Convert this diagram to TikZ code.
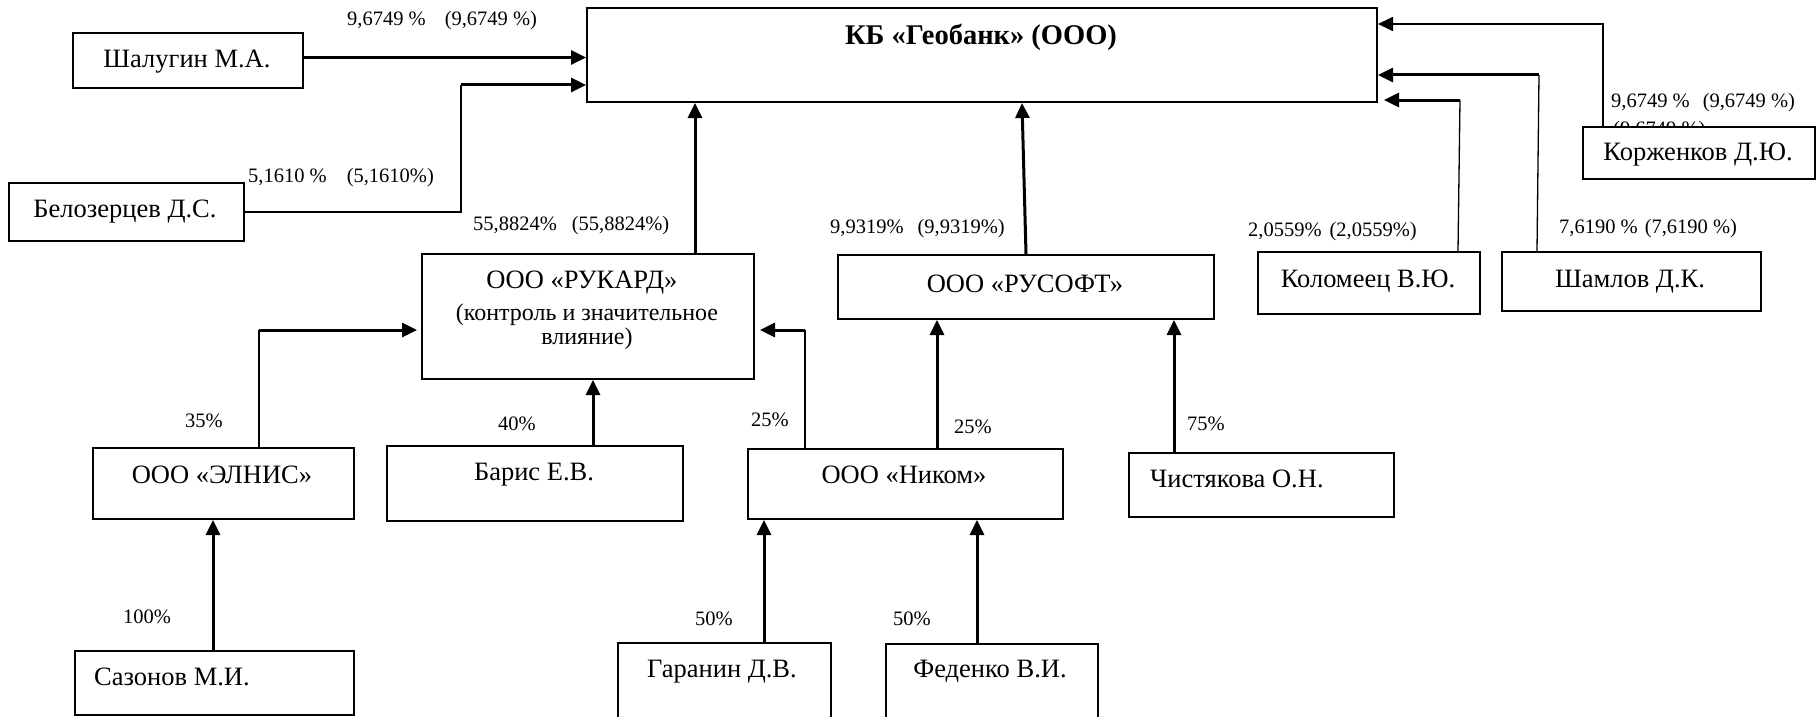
\documentclass[tikz,border=0pt]{standalone}
\usepackage{fontspec}
\setmainfont{Liberation Serif}
\usetikzlibrary{arrows.meta,calc}
\begin{document}
\begin{tikzpicture}[x=1pt,y=-1pt,
  box/.style={draw, line width=2pt, inner sep=0pt, anchor=north west, fill=white},
  nm/.style={font=\fontsize{26.5}{30}\selectfont, inner sep=0pt, anchor=base},
  nmleft/.style={font=\fontsize{26.5}{30}\selectfont, inner sep=0pt, anchor=base west},
  sub/.style={font=\fontsize{24}{28}\selectfont, inner sep=0pt, anchor=base},
  pct/.style={font=\fontsize{20.5}{24}\selectfont, inner sep=0pt, anchor=base west},
  arr/.style={line width=3pt, -{Triangle[length=15pt,width=14pt]}},
  midarr/.style={line width=1.8pt, -{Triangle[length=15pt,width=14pt]}},
  thinln/.style={line width=1.3pt},
]
\useasboundingbox (0,0) rectangle (1816,717);

% hidden label partly covered by the Korzhenkov box
\node[pct] (hid) at (1613,135) {(9,6749 \%)};

% boxes
\node[box, minimum width=790pt, minimum height=94pt] (geo) at (586,7) {};
\node[box, minimum width=230pt, minimum height=55pt] (shal) at (72,32) {};
\node[box, minimum width=235pt, minimum height=58pt] (bel) at (8,182) {};
\node[box, minimum width=332pt, minimum height=125pt] (rukard) at (421,253) {};
\node[box, minimum width=376pt, minimum height=64pt] (rusoft) at (837,254) {};
\node[box, minimum width=222pt, minimum height=62pt] (kolom) at (1257,251) {};
\node[box, minimum width=259pt, minimum height=59pt] (shaml) at (1501,251) {};
\node[box, minimum width=232pt, minimum height=52pt] (korzh) at (1582,126) {};
\node[box, minimum width=261pt, minimum height=71pt] (elnis) at (92,447) {};
\node[box, minimum width=296pt, minimum height=75pt] (baris) at (386,445) {};
\node[box, minimum width=315pt, minimum height=70pt] (nikom) at (747,448) {};
\node[box, minimum width=265pt, minimum height=64pt] (chist) at (1128,452) {};
\node[box, minimum width=279pt, minimum height=64pt] (sazon) at (74,650) {};
\node[box, minimum width=213pt, minimum height=100pt] (garan) at (617,642) {};
\node[box, minimum width=212pt, minimum height=100pt] (feden) at (885,643) {};

% box texts
\node[font=\bfseries\fontsize{28.5}{30}\selectfont, inner sep=0pt, anchor=base] (geoT) at (981,45) {КБ «Геобанк» (ООО)};
\node[nm] (shalT) at (187,68) {Шалугин М.А.};
\node[nm] (belT) at (125,217) {Белозерцев Д.С.};
\node[nm] (rukT1) at (582,288) {ООО «РУКАРД»};
\node[sub] (rukT2) at (587,320) {(контроль и значительное};
\node[sub] (rukT3) at (587,344) {влияние)};
\node[nm] (rusT) at (1025,292) {ООО «РУСОФТ»};
\node[nm] (kolT) at (1368,287) {Коломеец В.Ю.};
\node[nm] (shamT) at (1630,287) {Шамлов Д.К.};
\node[nm] (korT) at (1698,160) {Корженков Д.Ю.};
\node[nm] (elT) at (222,483) {ООО «ЭЛНИС»};
\node[nm] (barT) at (534,480) {Барис Е.В.};
\node[nm] (nikT) at (904,483) {ООО «Ником»};
\node[nmleft] (chT) at (1150,487) {Чистякова О.Н.};
\node[nmleft] (szT) at (94,685) {Сазонов М.И.};
\node[nm] (gaT) at (722,677) {Гаранин Д.В.};
\node[nm] (feT) at (990,677) {Феденко В.И.};

% percentage labels
\node[pct] (p1) at (347,26) {9,6749 \%\hspace{19pt}(9,6749 \%)};
\node[pct] (p2) at (248,182) {5,1610 \%\hspace{20pt}(5,1610\%)};
\node[pct] (p3) at (473,230) {55,8824\%\hspace{15pt}(55,8824\%)};
\node[pct] (p4) at (830,233) {9,9319\%\hspace{14pt}(9,9319\%)};
\node[pct] (p5) at (1248,236) {2,0559\%\hspace{8pt}(2,0559\%)};
\node[pct] (p6) at (1559,233) {7,6190 \%\hspace{7pt}(7,6190 \%)};
\node[pct] (p7) at (1611,107) {9,6749 \%\hspace{13pt}(9,6749 \%)};
\node[pct] (p8) at (185,427) {35\%};
\node[pct] (p9) at (498,430) {40\%};
\node[pct] (p10) at (751,426) {25\%};
\node[pct] (p11) at (954,433) {25\%};
\node[pct] (p12) at (1187,430) {75\%};
\node[pct] (p13) at (123,623) {100\%};
\node[pct] (p14) at (695,625) {50\%};
\node[pct] (p15) at (893,625) {50\%};

% connectors
\draw[arr] ($(shal.east)+(0,-3)$) coordinate (s1) -- (s1 -| geo.west);

\coordinate (b1) at ($(geo.north west)+(-125,78)$);
\draw[thinln] (bel.east) -| (b1);
\draw[arr] (b1) -- (b1 -| geo.west);

\draw[arr] ($(rukard.north west)+(274,0)$) coordinate (r1) -- (r1 |- geo.south);
\draw[arr] (rusoft.north) -- ($(rusoft.north |- geo.south)+(-4,0)$);

\coordinate (k1) at ($(korzh.north west)+(21,0)$);
\draw[midarr] (k1) |- ($(geo.north east)+(0,17)$);

\coordinate (m1) at ($(shaml.north west)+(36,0)$);
\coordinate (m2) at ($(geo.north east)+(161,68)$);
\draw[thinln] (m1) -- (m2);
\draw[arr] (m2) -- (m2 -| geo.east);

\coordinate (c1) at ($(kolom.north west)+(201,0)$);
\coordinate (c2) at ($(geo.south east)+(82,-3)$);
\draw[thinln] (c1) -- (c2);
\draw[arr] (c2) -- ($(geo.south east)+(6,-3)$);

\coordinate (e1) at ($(elnis.north west)+(167,0)$);
\coordinate (e2) at ($(rukard.north west)+(-162,77)$);
\draw[thinln] (e1) -- (e2);
\draw[arr] (e2) -- ($(e2 -| rukard.west)+(-4,0)$);

\draw[arr] ($(baris.north west)+(207,0)$) coordinate (ba1) -- (ba1 |- rukard.south);

\coordinate (n1) at ($(nikom.north west)+(58,0)$);
\coordinate (n2) at (n1 |- e2);
\draw[thinln] (n1) -- (n2);
\draw[arr] (n2) -- ($(n2 -| rukard.east)+(5,0)$);

\draw[arr] ($(nikom.north west)+(190,0)$) coordinate (n3) -- (n3 |- rusoft.south);
\draw[arr] ($(chist.north west)+(46,0)$) coordinate (ch1) -- (ch1 |- rusoft.south);
\draw[arr] ($(sazon.north west)+(139,0)$) coordinate (sz1) -- (sz1 |- elnis.south);
\draw[arr] ($(garan.north west)+(147,0)$) coordinate (g1) -- (g1 |- nikom.south);
\draw[arr] ($(feden.north west)+(92,0)$) coordinate (f1) -- (f1 |- nikom.south);
\end{tikzpicture}
\end{document}
